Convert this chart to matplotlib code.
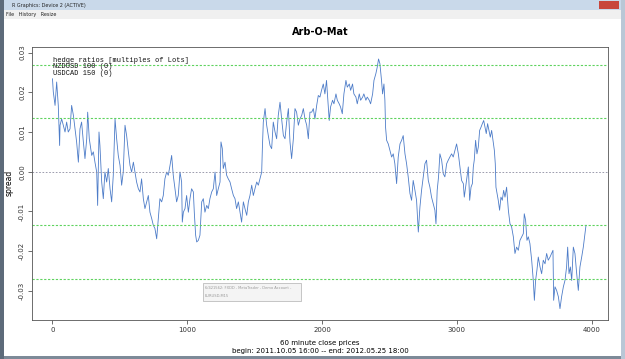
import matplotlib.pyplot as plt
from matplotlib.patches import Rectangle

# bar index (60 minute bars) and spread
idx = [0, 6, 19, 31, 43, 53, 56, 68, 80, 93, 105, 117, 130, 142, 155, 167, 179, 192, 204, 216,
       229, 241, 254, 261, 273, 291, 303, 315, 328, 335, 345, 352, 365, 377, 389, 402, 414, 427, 439, 451,
       464, 476, 488, 501, 513, 525, 538, 550, 563, 575, 587, 600, 612, 624, 637, 649, 661, 674, 686, 699,
       711, 723, 736, 748, 760, 773, 785, 797, 810, 822, 834, 847, 859, 872, 884, 896, 909, 921, 933, 946,
       958, 963, 971,
       983, 995, 1008, 1020, 1032, 1045, 1052, 1062, 1070, 1082, 1094, 1107, 1119, 1131, 1144, 1156, 1168, 1181, 1193, 1206,
       1218, 1230, 1243, 1250, 1260, 1267, 1280, 1292, 1304, 1317, 1329, 1342, 1354, 1366, 1379, 1391, 1403, 1416, 1428, 1441,
       1453, 1465, 1478, 1490, 1502, 1515, 1527, 1539, 1552, 1557, 1564, 1577, 1589, 1601, 1614, 1626, 1638, 1651, 1663, 1675,
       1688, 1700, 1713, 1725, 1737, 1750, 1762, 1774, 1787, 1799, 1811, 1824, 1836, 1849, 1861, 1873, 1886, 1898, 1910, 1923,
       1935, 1947, 1960, 1972,
       1984, 1996, 2009, 2021, 2033, 2046, 2053, 2063, 2078, 2088, 2103, 2113, 2127, 2137, 2150, 2162, 2177, 2187, 2202, 2212,
       2226, 2236, 2251, 2261, 2276, 2286, 2301, 2310, 2325, 2335, 2350, 2360, 2375, 2385, 2399, 2409, 2419, 2429, 2441, 2449,
       2459, 2466, 2471, 2479, 2491, 2503, 2516, 2528, 2540, 2553, 2565, 2578, 2590, 2602, 2615, 2627, 2639, 2652, 2664, 2676,
       2689, 2701, 2714, 2726, 2738, 2751, 2763, 2775, 2788, 2800, 2812, 2825, 2837, 2845, 2854, 2864, 2874, 2887, 2899, 2911,
       2924, 2936, 2948, 2961, 2973,
       2986, 2998, 3011, 3023, 3035, 3048, 3055, 3065, 3075, 3085, 3095, 3105, 3115, 3122, 3129, 3139, 3149, 3159, 3169, 3179,
       3189, 3199, 3209, 3218, 3228, 3238, 3248, 3258, 3268, 3278, 3285, 3290, 3298, 3307, 3317, 3327, 3337, 3347, 3357, 3369,
       3382, 3394, 3406, 3419, 3431, 3443, 3456, 3468, 3481, 3493, 3500, 3510, 3520, 3530, 3542, 3555, 3567, 3575, 3584, 3594,
       3604, 3617, 3629, 3641, 3654, 3666, 3678, 3691, 3703, 3713, 3718, 3728, 3740, 3753, 3765, 3777, 3790, 3802, 3814, 3822,
       3832, 3842, 3852, 3864, 3876, 3889, 3901, 3913, 3926, 3938, 3950, 3958]

spread = [0.0234, 0.0201, 0.0167, 0.0226, 0.0167, 0.0066, 0.0117, 0.0133, 0.0117, 0.0100, 0.0125, 0.0100, 0.0108, 0.0167, 0.0142, 0.0108, 0.0075, 0.0024, 0.0108, 0.0125,
          0.0075, 0.0033, 0.0083, 0.0150, 0.0083, 0.0041, 0.0050, 0.0024, -0.0001, -0.0085, 0.0100, 0.0066, -0.0026, -0.0068, -0.0001, -0.0026, 0.0008, -0.0043, -0.0076, -0.0009,
          0.0133, 0.0083, 0.0041, 0.0016, -0.0034, -0.0001, 0.0117, 0.0091, 0.0050, 0.0016, -0.0001, 0.0024, -0.0001, -0.0026, -0.0043, -0.0051, -0.0018, -0.0068, -0.0093, -0.0076,
          -0.0060, -0.0102, -0.0118, -0.0135, -0.0143, -0.0169, -0.0118, -0.0068, -0.0076, -0.0060, -0.0018, -0.0001, -0.0009, 0.0016, 0.0041, -0.0009, -0.0043, -0.0076, -0.0060, -0.0001,
          -0.0026, -0.0127, -0.0102,
          -0.0093, -0.0060, -0.0102, -0.0068, -0.0043, -0.0051, -0.0102, -0.0160, -0.0177, -0.0173, -0.0160, -0.0076, -0.0068, -0.0102, -0.0085, -0.0093, -0.0068, -0.0051, -0.0043, -0.0001,
          -0.0060, -0.0043, -0.0026, 0.0075, 0.0058, 0.0008, 0.0024, -0.0009, -0.0018, -0.0026, -0.0043, -0.0060, -0.0068, -0.0093, -0.0076, -0.0102, -0.0127, -0.0076, -0.0093, -0.0110,
          -0.0076, -0.0060, -0.0034, -0.0060, -0.0043, -0.0026, -0.0034, -0.0018, -0.0001, 0.0058, 0.0125, 0.0159, 0.0117, 0.0091, 0.0066, 0.0058, 0.0125, 0.0100, 0.0083, 0.0142,
          0.0175, 0.0133, 0.0091, 0.0083, 0.0125, 0.0159, 0.0075, 0.0033, 0.0083, 0.0159, 0.0150, 0.0117, 0.0133, 0.0142, 0.0159, 0.0133, 0.0117, 0.0083, 0.0150, 0.0150,
          0.0159, 0.0133, 0.0167, 0.0192,
          0.0188, 0.0205, 0.0221, 0.0196, 0.0230, 0.0163, 0.0129, 0.0163, 0.0180, 0.0171, 0.0196, 0.0180, 0.0171, 0.0163, 0.0146, 0.0196, 0.0230, 0.0213, 0.0221, 0.0205,
          0.0221, 0.0196, 0.0188, 0.0171, 0.0196, 0.0180, 0.0188, 0.0196, 0.0180, 0.0188, 0.0180, 0.0171, 0.0196, 0.0230, 0.0247, 0.0263, 0.0284, 0.0272, 0.0230, 0.0196,
          0.0221, 0.0180, 0.0112, 0.0079, 0.0070, 0.0054, 0.0037, 0.0045, 0.0020, -0.0030, 0.0037, 0.0070, 0.0079, 0.0091, 0.0045, 0.0020, -0.0013, -0.0055, -0.0072, -0.0022,
          -0.0047, -0.0072, -0.0152, -0.0089, -0.0047, -0.0013, 0.0020, 0.0029, -0.0022, -0.0039, -0.0064, -0.0081, -0.0097, -0.0131, -0.0047, -0.0013, 0.0045, 0.0029, -0.0005, -0.0013,
          0.0020, 0.0029, 0.0037, 0.0045, 0.0037,
          0.0054, 0.0070, 0.0045, 0.0012, -0.0022, -0.0030, -0.0064, -0.0039, -0.0013, 0.0012, -0.0072, -0.0039, -0.0030, 0.0012, 0.0029, 0.0079, 0.0045, 0.0062, 0.0104, 0.0112,
          0.0121, 0.0129, 0.0112, 0.0096, 0.0121, 0.0104, 0.0087, 0.0104, 0.0079, 0.0054, 0.0020, -0.0039, -0.0055, -0.0072, -0.0097, -0.0064, -0.0072, -0.0047, -0.0064, -0.0039,
          -0.0097, -0.0131, -0.0139, -0.0164, -0.0206, -0.0190, -0.0198, -0.0173, -0.0164, -0.0156, -0.0106, -0.0122, -0.0173, -0.0164, -0.0181, -0.0223, -0.0274, -0.0324, -0.0274, -0.0248,
          -0.0215, -0.0240, -0.0257, -0.0223, -0.0232, -0.0206, -0.0223, -0.0215, -0.0206, -0.0198, -0.0324, -0.0290, -0.0299, -0.0315, -0.0345, -0.0315, -0.0290, -0.0274, -0.0240, -0.0190,
          -0.0257, -0.0240, -0.0274, -0.0190, -0.0206, -0.0257, -0.0299, -0.0240, -0.0215, -0.0190, -0.0156, -0.0135]

# threshold lines
band_inner = 0.0135
band_outer = 0.027

legend_lines = ['hedge ratios [multiples of Lots]', 'NZDUSD 100 (0)', 'USDCAD 150 (0)']
xticks = [0, 1000, 2000, 3000, 4000]
yticks = [-0.03, -0.02, -0.01, 0.00, 0.01, 0.02, 0.03]

W, H = 625, 359
fig = plt.figure(figsize=(W / 100, H / 100), dpi=100)
fig.patch.set_facecolor('white')

# window chrome (R graphics device screenshot)
fig.patches.append(Rectangle((0, 1 - 10 / H), 1, 10 / H, transform=fig.transFigure,
                             facecolor='#c9d9ea', edgecolor='none', zorder=0))
fig.patches.append(Rectangle((0, 1 - 19 / H), 1, 9 / H, transform=fig.transFigure,
                             facecolor='#f0f0f0', edgecolor='none', zorder=0))
fig.patches.append(Rectangle((0, 0), 1, 3.5 / H, transform=fig.transFigure,
                             facecolor='#7d8a98', edgecolor='none', zorder=0))
fig.patches.append(Rectangle((0, 0), 4 / W, 1, transform=fig.transFigure,
                             facecolor='#5d6b7a', edgecolor='none', zorder=0))
fig.patches.append(Rectangle((1 - 4 / W, 0), 4 / W, 1, transform=fig.transFigure,
                             facecolor='#b9c7d6', edgecolor='none', zorder=0))
fig.text(12 / W, 1 - 5 / H, 'R Graphics: Device 2 (ACTIVE)', fontsize=3.5, va='center', color='#222222')
fig.text(6 / W, 1 - 14.5 / H, 'File   History   Resize', fontsize=3.5, va='center', color='#222222')
fig.patches.append(Rectangle((1 - 26 / W, 1 - 9 / H), 20 / W, 8 / H, transform=fig.transFigure,
                             facecolor='#c8463c', edgecolor='none', zorder=1))

ax = fig.add_axes([32 / W, 1 - 320 / H, 575.7 / W, 273.3 / H])
ax.plot(idx, spread, color='#4d7cc8', lw=0.6)

ax.axhline(0, color='#8c8ca0', ls=(0, (2, 2)), lw=0.6)
for v in [band_outer, band_inner, -band_inner, -band_outer]:
    ax.axhline(v, color='#5fd35f', ls=(0, (2, 1.5)), lw=0.8)

ax.set_xlim(-152, 4119)
ax.set_ylim(-0.03736, 0.03149)
ax.set_xticks(xticks)
ax.set_xticklabels([str(t) for t in xticks])
ax.set_yticks(yticks)
ax.set_yticklabels(['%.2f' % t for t in yticks], rotation=90, va='center')
ax.tick_params(direction='out', length=3, width=0.5, labelsize=5, pad=2, colors='#333333')
for s in ax.spines.values():
    s.set_linewidth(0.6)
    s.set_color('#555555')

ax.set_ylabel('spread', fontsize=5.5, labelpad=4)
fig.text(319.9 / W, 1 - 32 / H, 'Arb-O-Mat', fontsize=7, fontweight='bold', ha='center', va='center')
fig.text(319.9 / W, 1 - 342.5 / H, '60 minute close prices', fontsize=5, ha='center', va='center')
fig.text(319.9 / W, 1 - 350.5 / H, 'begin: 2011.10.05 16:00 -- end: 2012.05.25 18:00', fontsize=5,
         ha='center', va='center')

for k, line in enumerate(legend_lines):
    ax.text(0.036, 0.95 - k * 0.024, line, transform=ax.transAxes, fontsize=5,
            family='Liberation Mono', va='center', color='#111111')

# tooltip left over in the screenshot
fig.patches.append(Rectangle((203 / W, 1 - 301 / H), 98 / W, 18 / H, transform=fig.transFigure,
                             facecolor='#f4f4f4', edgecolor='#b0b0b0', lw=0.5, zorder=5))
fig.text(205 / W, 1 - 288 / H, '6/421562: FXDD - MetaTrader - Demo Account -', fontsize=2.6,
         color='#999999', va='center', zorder=6)
fig.text(205 / W, 1 - 296 / H, 'EURUSD,M15', fontsize=2.6, color='#999999', va='center', zorder=6)

fig.savefig('out.png', dpi=100)
